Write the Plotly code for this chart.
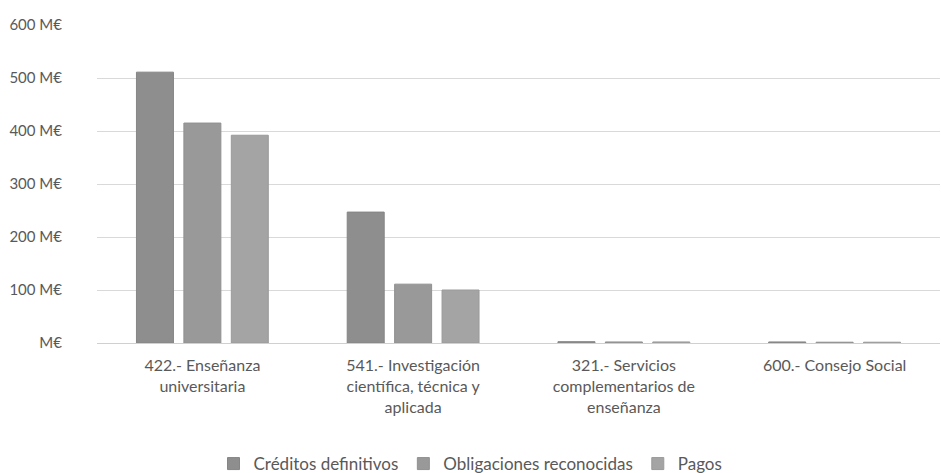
import plotly.graph_objects as go

categories = [
    "422.- Enseñanza<br>universitaria",
    "541.- Investigación<br>científica, técnica y<br>aplicada",
    "321.- Servicios<br>complementarios de<br>enseñanza",
    "600.- Consejo Social",
]
series_names = ["Créditos definitivos", "Obligaciones reconocidas", "Pagos"]
creditos = [511, 247, 2.5, 2.0]
obligaciones = [415, 111, 2.0, 1.5]
pagos = [392, 100, 2.0, 1.5]
tick_vals = [0, 100, 200, 300, 400, 500, 600]
tick_text = ["M€", "100 M€", "200 M€", "300 M€", "400 M€", "500 M€", "600 M€"]

colors = ["#8e8e8e", "#999999", "#a4a4a4"]
lines = ["#858585", "#909090", "#9a9a9a"]

fig = go.Figure()
for name, vals, c, lc in zip(series_names, [creditos, obligaciones, pagos], colors, lines):
    fig.add_trace(go.Bar(
        x=categories, y=vals, name=name,
        marker=dict(color=c, line=dict(color=lc, width=1)),
    ))

FAM = "Lato, 'Open Sans', sans-serif"
font = dict(family=FAM, size=16, color="#595959")
yfont = dict(family=FAM, size=15, color="#595959")
fig.update_layout(
    width=941, height=473,
    margin=dict(l=97, r=1, t=25, b=130, autoexpand=False),
    paper_bgcolor="white", plot_bgcolor="white",
    barmode="group", bargap=0.325, bargroupgap=0.22,
    font=font,
    showlegend=True,
    legend=dict(orientation="h", x=0.5, xanchor="center", xref="container",
                y=0.019, yanchor="middle", yref="container",
                font=dict(family=FAM, size=17, color="#595959"),
                itemwidth=30, traceorder="normal"),
    xaxis=dict(showgrid=False, showline=True, linecolor="#d0d0d0", linewidth=1,
               ticks="", tickfont=font, automargin=False, ticklabelstandoff=8),
    yaxis=dict(range=[0, 600], tickvals=tick_vals, ticktext=tick_text,
               showgrid=True, gridcolor="#d9d9d9", gridwidth=1, zeroline=False,
               ticks="", ticklabelstandoff=34, tickfont=yfont, automargin=False),
)
fig.write_html("out.html", config={"displayModeBar": False},
               post_script="document.body.style.margin='0';document.body.style.overflow='hidden';")
